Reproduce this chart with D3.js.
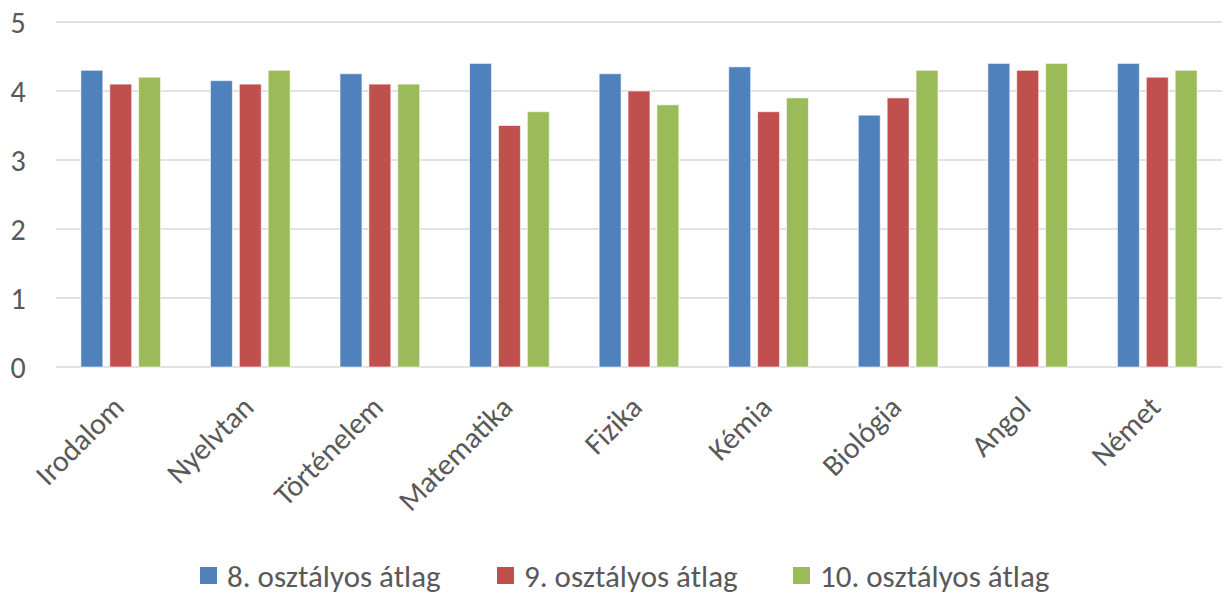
<!DOCTYPE html>
<html lang="hu">
<head>
<meta charset="UTF-8">
<title>Osztályátlagok</title>
<script src="https://d3js.org/d3.v7.min.js"></script>
<style>
  body { margin: 0; background: #fff; }
  text { font-family: Carlito, Lato, "Open Sans", sans-serif; fill: #595959; }
</style>
</head>
<body>
<script>
// data
var subjects = ["Irodalom", "Nyelvtan", "Történelem", "Matematika", "Fizika", "Kémia", "Biológia", "Angol", "Német"];
var seriesNames = ["8. osztályos átlag", "9. osztályos átlag", "10. osztályos átlag"];
var grade8 = [4.3, 4.15, 4.25, 4.4, 4.25, 4.35, 3.65, 4.4, 4.4];
var grade9 = [4.1, 4.1, 4.1, 3.5, 4.0, 3.7, 3.9, 4.3, 4.2];
var grade10 = [4.2, 4.3, 4.1, 3.7, 3.8, 3.9, 4.3, 4.4, 4.3];
var yTicks = [0, 1, 2, 3, 4, 5];
var colors = ["#4f81bd", "#c0504d", "#9bbb59"];

var width = 1225, height = 599;
var margin = { top: 22, right: 3, bottom: 232, left: 56 };

var svg = d3.select("body").append("svg")
    .attr("width", width)
    .attr("height", height);

var g = svg.append("g")
    .attr("transform", "translate(" + margin.left + "," + margin.top + ")");

var innerW = width - margin.left - margin.right;
var innerH = height - margin.top - margin.bottom;

var x0 = d3.scaleBand().domain(subjects).range([0, innerW]).paddingInner(0.385).paddingOuter(0.192);
var x1 = d3.scaleBand().domain(d3.range(3)).range([0, x0.bandwidth()]).paddingInner(0.24).paddingOuter(0);
var y = d3.scaleLinear().domain([0, 5]).range([innerH, 0]);

var rows = subjects.map(function(s, i) {
    return { subject: s, values: [grade8[i], grade9[i], grade10[i]] };
});

// gridlines
g.append("g").selectAll("line")
    .data(yTicks)
    .enter().append("line")
    .attr("x1", 0).attr("x2", innerW)
    .attr("y1", function(d) { return y(d); })
    .attr("y2", function(d) { return y(d); })
    .attr("stroke", "#d9d9d9")
    .attr("stroke-width", 1.5);

// y axis labels
g.append("g").selectAll("text")
    .data(yTicks)
    .enter().append("text")
    .attr("x", -38)
    .attr("y", function(d) { return y(d); })
    .attr("dy", "0.36em")
    .attr("text-anchor", "middle")
    .style("font-size", "30px")
    .text(function(d) { return d; });

// bars
var groups = g.append("g").selectAll("g")
    .data(rows)
    .enter().append("g")
    .attr("transform", function(d) { return "translate(" + x0(d.subject) + ",0)"; });

groups.selectAll("rect")
    .data(function(d) { return d.values; })
    .enter().append("rect")
    .attr("x", function(d, i) { return x1(i); })
    .attr("y", function(d) { return y(d); })
    .attr("width", x1.bandwidth())
    .attr("height", function(d) { return innerH - y(d); })
    .attr("fill", function(d, i) { return colors[i]; })
    .attr("stroke", "#fff")
    .attr("stroke-opacity", 0.6)
    .attr("stroke-width", 1);

// category labels
g.append("g").selectAll("text")
    .data(subjects)
    .enter().append("text")
    .attr("transform", function(d) {
        return "translate(" + (x0(d) + x0.bandwidth() / 2 + 5) + "," + (innerH + 42) + ") rotate(-45)";
    })
    .attr("text-anchor", "end")
    .style("font-size", "30px")
    .text(function(d) { return d; });

// legend
var legendX = [200, 497, 793];
var legend = svg.append("g").selectAll("g")
    .data(seriesNames)
    .enter().append("g")
    .attr("transform", function(d, i) { return "translate(" + legendX[i] + ",576)"; });

legend.append("rect")
    .attr("x", 0).attr("y", -9)
    .attr("width", 17).attr("height", 17)
    .attr("fill", function(d, i) { return colors[i]; });

legend.append("text")
    .attr("x", 27)
    .attr("dy", "0.36em")
    .style("font-size", "31px")
    .text(function(d) { return d; });
</script>
</body>
</html>
